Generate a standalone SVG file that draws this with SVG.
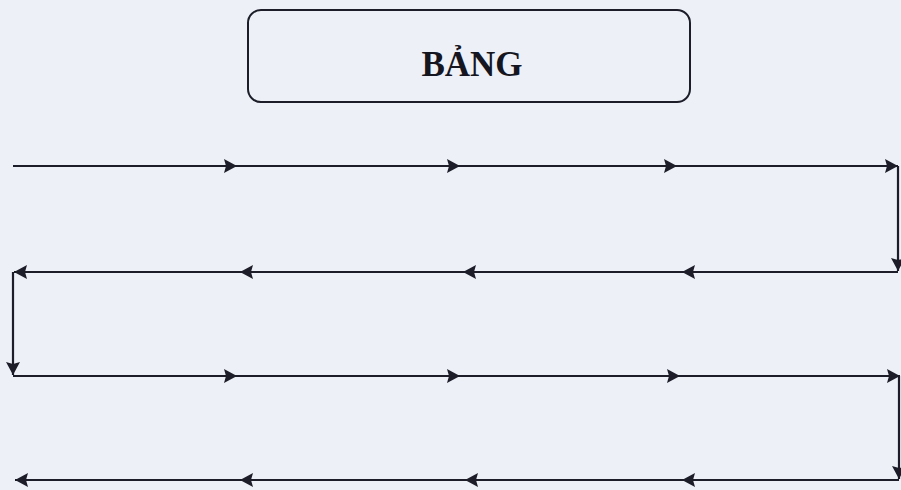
<svg xmlns="http://www.w3.org/2000/svg" width="901" height="490" viewBox="0 0 901 490">
<style>
.bg{fill:#eef0f8}
.box{fill:none;stroke:#1c1d28;stroke-width:2}
.t{font-family:"Liberation Serif","Times New Roman",serif;font-weight:bold;font-size:35px;fill:#15161f}
.c{fill:none;stroke:#1c1d28;stroke-width:2.2;marker-end:url(#ah)}
</style>
<defs>
<marker id="ah" viewBox="0 0 13 14" refX="13" refY="7" markerWidth="13" markerHeight="14" markerUnits="userSpaceOnUse" orient="auto">
<path d="M0,0 L13,7 L0,14 L2,7 Z" fill="#1c1d28"/>
</marker>
</defs>
<rect class="bg" x="0" y="0" width="901" height="490"/>
<g id="node-bang">
<rect class="box" x="248" y="10" width="442" height="92" rx="13" ry="13"/>
<text class="t" x="472" y="76" text-anchor="middle">BẢNG</text>
</g>
<g id="connectors">
<line class="c" x1="13" y1="166" x2="237" y2="166"/>
<line class="c" x1="237" y1="166" x2="460" y2="166"/>
<line class="c" x1="460" y1="166" x2="677" y2="166"/>
<line class="c" x1="677" y1="166" x2="898" y2="166"/>
<line class="c" x1="898" y1="166" x2="898" y2="271"/>
<line class="c" x1="898" y1="272" x2="682" y2="272"/>
<line class="c" x1="682" y1="272" x2="463" y2="272"/>
<line class="c" x1="463" y1="272" x2="240" y2="272"/>
<line class="c" x1="240" y1="272" x2="14" y2="272"/>
<line class="c" x1="13" y1="272" x2="13" y2="375"/>
<line class="c" x1="13" y1="376" x2="237" y2="376"/>
<line class="c" x1="237" y1="376" x2="460" y2="376"/>
<line class="c" x1="460" y1="376" x2="680" y2="376"/>
<line class="c" x1="680" y1="376" x2="900" y2="376"/>
<line class="c" x1="899" y1="376" x2="899" y2="479"/>
<line class="c" x1="899" y1="480" x2="682" y2="480"/>
<line class="c" x1="682" y1="480" x2="465" y2="480"/>
<line class="c" x1="465" y1="480" x2="240" y2="480"/>
<line class="c" x1="240" y1="480" x2="15" y2="480"/>
</g>
</svg>
